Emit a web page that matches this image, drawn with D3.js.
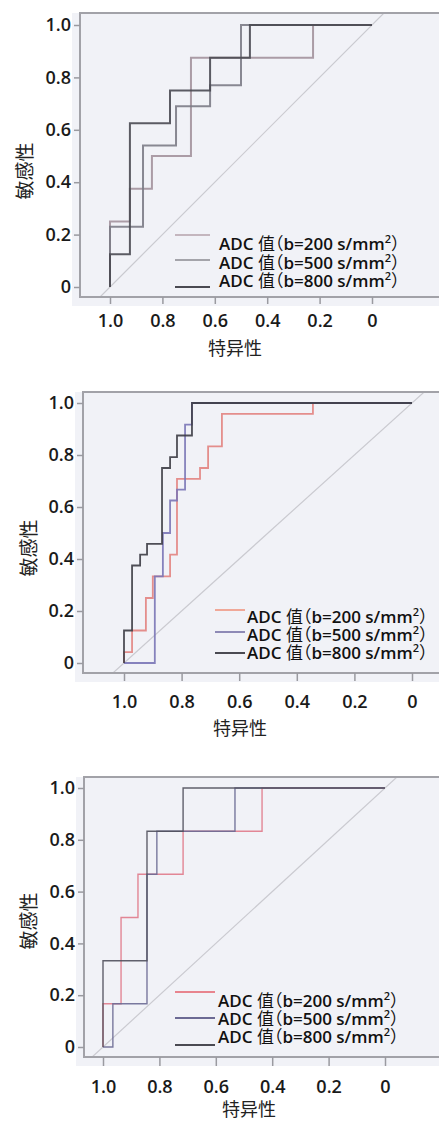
<!DOCTYPE html>
<html>
<head>
<meta charset="utf-8">
<script src="https://cdn.jsdelivr.net/npm/d3@7/dist/d3.min.js"></script>
<style>
  body { margin: 0; background: #fff; }
  svg { display: block; }
  text { font-family: "Open Sans", "Noto Sans CJK SC", sans-serif; }
  .cjk { font-family: "Noto Sans CJK SC", sans-serif; font-weight: 400; font-feature-settings: "halt"; }
</style>
</head>
<body>
<svg width="439" height="1122"></svg>
<script>
/* ==================== DATA ==================== */

var xTicks = [1.0, 0.8, 0.6, 0.4, 0.2, 0];
var xTickLabels = ["1.0", "0.8", "0.6", "0.4", "0.2", "0"];
var yTicks = [0, 0.2, 0.4, 0.6, 0.8, 1.0];
var yTickLabels = ["0", "0.2", "0.4", "0.6", "0.8", "1.0"];
var bValues = ["200", "500", "800"];
var xTitle = "特异性";
var yTitle = "敏感性";

// panel 1 (specificity / sensitivity at each step corner)
var p1Spec200 = [1, 1, 0.924, 0.84, 0.691, 0.225, 0];
var p1Sens200 = [0, 0.25, 0.375, 0.5, 0.875, 1, 1];
var p1Spec500 = [1, 1, 0.874, 0.748, 0.618, 0.5, 0];
var p1Sens500 = [0, 0.23, 0.54, 0.69, 0.77, 1, 1];
var p1Spec800 = [1, 1, 0.924, 0.771, 0.618, 0.466, 0];
var p1Sens800 = [0, 0.125, 0.625, 0.75, 0.875, 1, 1];

// panel 2
var p2Spec200 = [1, 1, 0.972, 0.924, 0.9, 0.84, 0.816, 0.736, 0.708, 0.66, 0.344, 0];
var p2Sens200 = [0, 0.042, 0.125, 0.25, 0.333, 0.417, 0.708, 0.75, 0.833, 0.958, 1, 1];
var p2Spec500 = [1, 0.893, 0.865, 0.84, 0.816, 0.788, 0.764, 0];
var p2Sens500 = [0, 0.333, 0.5, 0.625, 0.667, 0.917, 1, 1];
var p2Spec800 = [1, 1, 0.972, 0.944, 0.92, 0.868, 0.84, 0.816, 0.764, 0];
var p2Sens800 = [0, 0.125, 0.375, 0.417, 0.458, 0.75, 0.792, 0.875, 1, 1];

// panel 3
var p3Spec200 = [1, 1, 0.936, 0.876, 0.716, 0.436, 0];
var p3Sens200 = [0, 0.167, 0.5, 0.667, 0.833, 1, 1];
var p3Spec500 = [1, 0.965, 0.844, 0.809, 0.532, 0];
var p3Sens500 = [0, 0.167, 0.667, 0.833, 1, 1];
var p3Spec800 = [1, 1, 0.844, 0.716, 0];
var p3Sens800 = [0, 0.333, 0.833, 1, 1];

/* ==================== LAYOUT ==================== */

var svg = d3.select("svg");

var panels = [
    {
        frame: { left: 80, top: 13, bottom: 297 },
        xRange: [110, 372], yRange: [287, 25],
        labelGap: 17, tickLen: 7,
        colors: ["#a3929c", "#7c7c86", "#4a4a52"], lineWidth: 2,
        legendColors: ["#c4b6be", "#a4a4aa", "#4a4a52"],
        legend: { x1: 175, x2: 210, lineY: [235, 260, 287], textX: 219, textY: [250, 269, 287] },
        xTitle: [235, 347], yTitle: [23, 171],
        series: [[p1Spec200, p1Sens200], [p1Spec500, p1Sens500], [p1Spec800, p1Sens800]]
    },
    {
        frame: { left: 83, top: 392, bottom: 673 },
        xRange: [124, 412], yRange: [663, 403],
        labelGap: 22, tickLen: 8,
        colors: ["#e2837f", "#7a76b6", "#3c3c44"], lineWidth: 1.8,
        legendColors: ["#f0a898", "#8e8ab6", "#4a4a52"],
        legend: { x1: 215, x2: 245, lineY: [610, 632, 653], textX: 247, textY: [623, 641, 659] },
        xTitle: [240, 727], yTitle: [27, 548],
        series: [[p2Spec200, p2Sens200], [p2Spec500, p2Sens500], [p2Spec800, p2Sens800]]
    },
    {
        frame: { left: 84, top: 777, bottom: 1057 },
        xRange: [103, 385], yRange: [1047, 788],
        labelGap: 23, tickLen: 9,
        colors: ["#e07a8a", "#6c6a94", "#50505c"], lineWidth: 1.4,
        legendColors: ["#e8848e", "#6c6a94", "#4a4a52"],
        legend: { x1: 175, x2: 215, lineY: [992, 1018, 1045], textX: 218, textY: [1007, 1025, 1043] },
        xTitle: [249, 1108], yTitle: [27, 921],
        series: [[p3Spec200, p3Sens200], [p3Spec500, p3Sens500], [p3Spec800, p3Sens800]]
    }
];

panels.forEach(function(p, pi) {

    var x = d3.scaleLinear().domain([1, 0]).range(p.xRange);
    var y = d3.scaleLinear().domain([0, 1]).range(p.yRange);
    var f = p.frame;
    var right = 445;

    var g = svg.append("g");

    // background (slightly larger than the frame, like the scan)
    g.append("rect")
        .attr("x", f.left - 8).attr("y", f.top)
        .attr("width", right - f.left + 8).attr("height", f.bottom - f.top + 9)
        .attr("fill", "#f1f2f7");

    g.append("clipPath").attr("id", "clip" + pi)
        .append("rect")
        .attr("x", f.left).attr("y", f.top)
        .attr("width", right - f.left).attr("height", f.bottom - f.top);

    // reference diagonal
    g.append("line")
        .attr("clip-path", "url(#clip" + pi + ")")
        .attr("x1", x(1.3)).attr("y1", y(-0.3))
        .attr("x2", x(-0.3)).attr("y2", y(1.3))
        .attr("stroke", "#cacad0")
        .attr("stroke-width", 1.2);

    // ROC step curves
    var line = d3.line()
        .x(function(d) { return x(d[0]); })
        .y(function(d) { return y(d[1]); })
        .curve(d3.curveStepAfter);

    p.series.forEach(function(s, si) {
        var pts = s[0].map(function(v, i) { return [v, s[1][i]]; });
        g.append("path")
            .datum(pts)
            .attr("d", line)
            .attr("fill", "none")
            .attr("stroke", p.colors[si])
            .attr("stroke-width", p.lineWidth)
            .attr("stroke-opacity", 0.9);
    });

    // frame
    g.append("rect")
        .attr("x", f.left).attr("y", f.top)
        .attr("width", right - f.left).attr("height", f.bottom - f.top)
        .attr("fill", "none")
        .attr("stroke", "#a2a2a8")
        .attr("stroke-width", 2);

    // axes
    var yAxis = g.append("g")
        .attr("transform", "translate(" + f.left + ",0)")
        .call(d3.axisLeft(y).tickValues(yTicks)
            .tickFormat(function(d, i) { return yTickLabels[i]; })
            .tickSize(6).tickPadding(3));

    var xAxis = g.append("g")
        .attr("transform", "translate(0," + f.bottom + ")")
        .call(d3.axisBottom(x).tickValues(xTicks)
            .tickFormat(function(d, i) { return xTickLabels[i]; })
            .tickSize(p.tickLen).tickPadding(p.labelGap - p.tickLen));

    [yAxis, xAxis].forEach(function(a) {
        a.select(".domain").remove();
        a.selectAll(".tick line").attr("stroke", "#9a9aa0").attr("stroke-width", 1.5);
        a.selectAll(".tick text")
            .attr("fill", "#1a1a1a")
            .style("font-size", "18px")
            .style("font-weight", 600);
    });

    // axis titles
    g.append("text")
        .attr("class", "cjk")
        .attr("x", p.xTitle[0]).attr("y", p.xTitle[1])
        .attr("text-anchor", "middle")
        .attr("dominant-baseline", "central")
        .style("font-size", "18px")
        .attr("fill", "#222")
        .text(xTitle);

    g.append("text")
        .attr("class", "cjk")
        .attr("transform", "translate(" + p.yTitle[0] + "," + p.yTitle[1] + ") rotate(-90)")
        .attr("text-anchor", "middle")
        .attr("dominant-baseline", "central")
        .style("font-size", "19px")
        .attr("fill", "#222")
        .text(yTitle);

    // legend
    var L = p.legend;
    bValues.forEach(function(b, i) {
        g.append("line")
            .attr("x1", L.x1).attr("x2", L.x2)
            .attr("y1", L.lineY[i]).attr("y2", L.lineY[i])
            .attr("stroke", p.legendColors[i])
            .attr("stroke-width", 2);

        var t = g.append("text")
            .attr("x", L.textX).attr("y", L.textY[i])
            .attr("fill", "#111")
            .style("font-size", "17px")
            .style("font-weight", 600);
        t.append("tspan").text("ADC ");
        t.append("tspan").attr("class", "cjk").text("值（");
        t.append("tspan").text("b=" + b + " s/mm");
        t.append("tspan").attr("dy", -7).style("font-size", "11px").text("2");
        t.append("tspan").attr("dy", 7).attr("class", "cjk").text("）");
    });
});
</script>
</body>
</html>
